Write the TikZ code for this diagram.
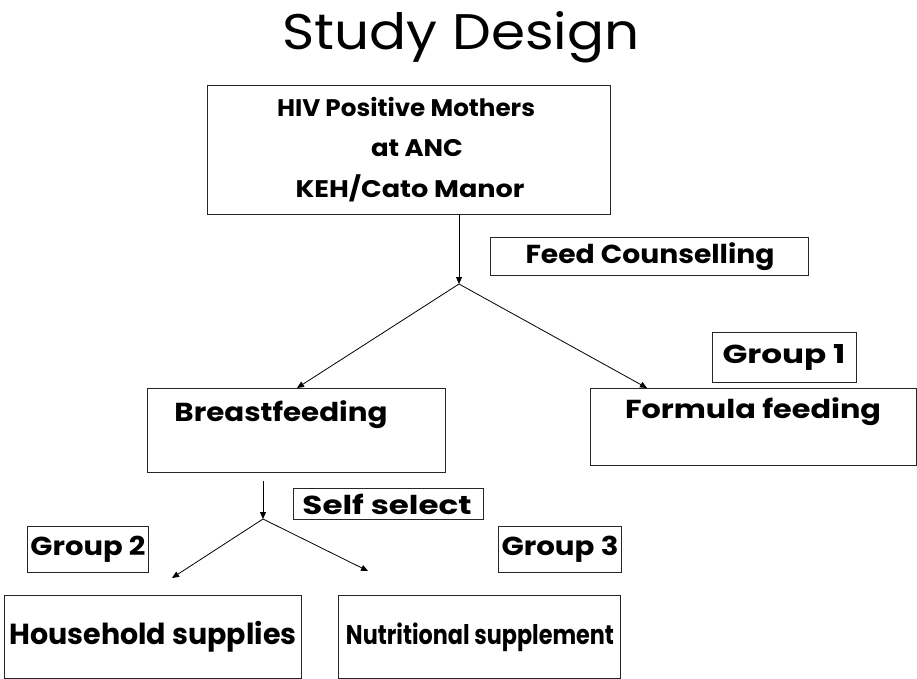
\documentclass[tikz,border=0pt]{standalone}
\usepackage{fontspec}
\usepackage{graphicx}
\setmainfont{Poppins}
\usetikzlibrary{arrows.meta}
\newcommand{\fitw}[2]{\resizebox{#1}{\height}{#2}}
\begin{document}
\begin{tikzpicture}[x=1pt,y=-1pt,
  box/.style={draw=black!85, line width=1.1pt, inner sep=0pt},
  lbl/.style={font=\bfseries\fontsize{26}{30}\selectfont, inner sep=0pt},
  toplbl/.style={font=\bfseries\fontsize{24}{30}\selectfont, inner sep=0pt},
  big/.style={font=\bfseries\fontsize{29}{34}\selectfont, inner sep=0pt},
  arr/.style={line width=0.8pt, -{Triangle[length=7pt,width=6pt]}}]
\useasboundingbox[fill=white] (0,0) rectangle (917,679);
% title
\node[font=\fontsize{50}{54}\selectfont, inner sep=0pt, anchor=base] (title) at (461,50) {\fitw{357pt}{Study Design}};
% boxes
\node[box, minimum width=403pt, minimum height=129pt, anchor=north west] (top) at (207,85) {};
\node[toplbl, anchor=base] (t1) at (406,117) {\fitw{258pt}{HIV Positive Mothers}};
\node[toplbl, anchor=base] (t2) at (417,157) {\fitw{92pt}{at ANC}};
\node[toplbl, anchor=base] (t3) at (410,197) {\fitw{229pt}{KEH/Cato Manor}};
\node[box, minimum width=318pt, minimum height=38pt, anchor=north west] (fc) at (490,237) {};
\node[lbl] (fctxt) at (650,257) {\fitw{249pt}{Feed Counselling}};
\node[box, minimum width=144pt, minimum height=50pt, anchor=north west] (g1) at (712,332) {};
\node[lbl] (g1txt) at (784,357) {\fitw{123pt}{Group 1}};
\node[box, minimum width=298pt, minimum height=84pt, anchor=north west] (bf) at (147,388) {};
\node[lbl] (bftxt) at (281,415) {\fitw{213pt}{Breastfeeding}};
\node[box, minimum width=326pt, minimum height=77pt, anchor=north west] (ff) at (590,388) {};
\node[lbl] (fftxt) at (753,412) {\fitw{256pt}{Formula feeding}};
\node[box, minimum width=190pt, minimum height=31pt, anchor=north west] (ss) at (293,488) {};
\node[lbl] (sstxt) at (387,504) {\fitw{169pt}{Self select}};
\node[box, minimum width=121pt, minimum height=46pt, anchor=north west] (g2) at (27,526) {};
\node[lbl] (g2txt) at (88,549) {\fitw{115pt}{Group 2}};
\node[box, minimum width=123pt, minimum height=46pt, anchor=north west] (g3) at (498,526) {};
\node[lbl] (g3txt) at (560,549) {\fitw{117pt}{Group 3}};
\node[box, minimum width=297pt, minimum height=83pt, anchor=north west] (hs) at (4,595) {};
\node[big] (hstxt) at (153,637) {\fitw{287pt}{Household supplies}};
\node[box, minimum width=282pt, minimum height=83pt, anchor=north west] (ns) at (338,595) {};
\node[big, font=\bfseries\fontsize{27}{34}\selectfont] (nstxt) at (480,637) {\fitw{268pt}{Nutritional supplement}};
% connectors
\coordinate (s1top) at (459,214);
\coordinate (s1) at (459,284);
\coordinate (bfin) at (297,388);
\coordinate (ffin) at (647,388);
\draw[arr] (s1top) -- (s1);
\draw[arr] (s1) -- (bfin);
\draw[arr] (s1) -- (ffin);
\coordinate (s2top) at (263,481);
\coordinate (s2) at (263,519);
\coordinate (hsin) at (172,578);
\coordinate (nsin) at (368,571);
\draw[arr] (s2top) -- (s2);
\draw[arr] (s2) -- (hsin);
\draw[arr] (s2) -- (nsin);
\end{tikzpicture}
\end{document}
